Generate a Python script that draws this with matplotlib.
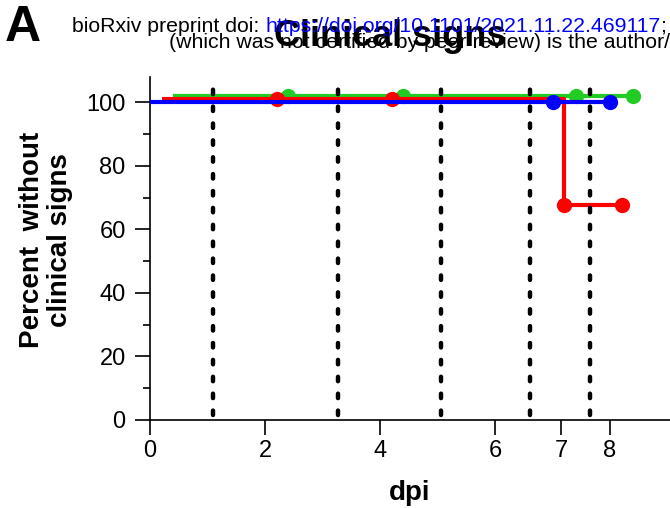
import matplotlib
matplotlib.use("Agg")
import matplotlib.pyplot as plt

plt.rcParams['font.family'] = ['Liberation Sans', 'DejaVu Sans']

# ---- data ----
# step survival curves (time in dpi, percent without clinical signs)
blue_t = [0, 8]
blue_s = [100, 100]
blue_cens_t = [7, 8]
blue_cens_s = [100, 100]

red_t = [0, 7, 7, 8]
red_s = [100, 100, 66.7, 66.7]
red_cens_t = [2, 4, 7, 8]
red_cens_s = [100, 100, 66.7, 66.7]

green_t = [0, 8]
green_s = [100, 100]
green_cens_t = [2, 4, 7, 8]
green_cens_s = [100, 100, 100, 100]

vlines_x = [1.1, 3.27, 5.06, 6.6, 7.65]

xtick_pos = [0, 2, 4, 6, 7.15, 8]
xtick_labels = ['0', '2', '4', '6', '7', '8']
ytick_major = [0, 20, 40, 60, 80, 100]
ytick_minor = [10, 30, 50, 70, 90]

# display offsets (GraphPad-style nudging)
RED_DX, RED_DY = 0.2, 1.0
GREEN_DX, GREEN_DY = 0.4, 2.0

W, H = 670, 508
fig = plt.figure(figsize=(W / 100, H / 100), dpi=100)
ax = fig.add_axes([150 / W, 88 / H, (W - 150) / W, (420 - 76.7) / H])

GREEN = '#22cc22'
RED = '#ff0000'
BLUE = '#0000ff'
LW = 3.0
MS = 11

for x in vlines_x:
    ln, = ax.plot([x, x], [1.5, 107.5], color='black', lw=3.2,
                  solid_capstyle='round', dash_capstyle='round', zorder=5)
    ln.set_dashes((1.0, 2.8))

def draw(t, s, ct, cs, dx, dy, color, z):
    ax.plot([v + dx for v in t], [v + dy for v in s], color=color, lw=LW,
            solid_capstyle='butt', zorder=z, clip_on=False)
    ax.plot([v + dx for v in ct], [v + dy for v in cs], 'o', color=color,
            ms=MS, mec='none', zorder=z, clip_on=False)

draw(green_t, green_s, green_cens_t, green_cens_s, GREEN_DX, GREEN_DY, GREEN, 2)
draw(red_t, red_s, red_cens_t, red_cens_s, RED_DX, RED_DY, RED, 3)
draw(blue_t, blue_s, blue_cens_t, blue_cens_s, 0, 0, BLUE, 4)

ax.set_xlim(0, (W - 150) / 57.5)
ax.set_ylim(0, 108.06)
ax.set_xticks(xtick_pos)
ax.set_xticklabels(xtick_labels)
ax.set_yticks(ytick_major)
ax.set_yticks(ytick_minor, minor=True)
ax.tick_params(axis='both', which='major', length=10.5, width=1.2, labelsize=17)
ax.tick_params(axis='x', which='major', pad=4)
ax.tick_params(axis='y', which='major', pad=7)
ax.tick_params(axis='y', which='minor', length=5, width=1.2)
ax.tick_params(axis='x', which='minor', length=0)
for sp in ['top', 'right']:
    ax.spines[sp].set_visible(False)
for sp in ['left', 'bottom']:
    ax.spines[sp].set_linewidth(1.2)

# axis labels
fig.text(410 / W, 1 - 500 / H, 'dpi', fontsize=20, fontweight='bold',
         ha='center', va='baseline')
fig.text(46 / W, 1 - 240 / H, 'Percent  without\nclinical signs', fontsize=20,
         fontweight='bold', rotation=90, ha='center', va='center',
         multialignment='center', linespacing=1.1)

# title
fig.text(390 / W, 1 - 46 / H, 'Clinical signs', fontsize=26, fontweight='bold',
         ha='center', va='baseline')
# panel letter
fig.text(5 / W, 1 - 41 / H, 'A', fontsize=36, fontweight='bold', ha='left',
         va='baseline')

# bioRxiv header
fig.canvas.draw()
r = fig.canvas.get_renderer()
y1 = 1 - 32 / H
FS = 15.3
t1 = fig.text(72 / W, y1, 'bioRxiv preprint doi: ', fontsize=FS, ha='left',
              va='baseline', zorder=10)
bb = t1.get_window_extent(renderer=r)
t2 = fig.text(bb.x1 / W, y1, 'https://doi.org/10.1101/2021.11.22.469117',
              fontsize=FS, color='#0000ff', ha='left', va='baseline', zorder=10)
bb2 = t2.get_window_extent(renderer=r)
fig.text(bb2.x1 / W, y1, ';', fontsize=FS, ha='left', va='baseline', zorder=10)
fig.text(1.0, 1 - 48 / H, '(which was not certified by peer review) is the author/',
         fontsize=FS, ha='right', va='baseline', zorder=10)

fig.savefig('out.png', dpi=100)
